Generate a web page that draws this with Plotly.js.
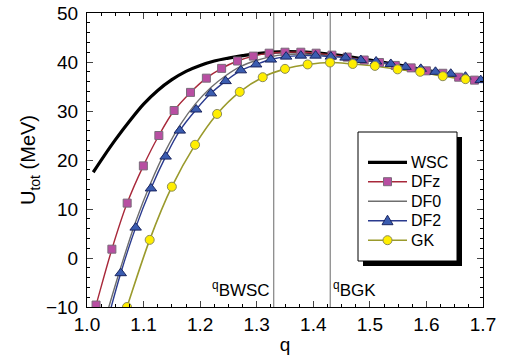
<!DOCTYPE html>
<html>
<head>
<meta charset="utf-8">
<script src="https://cdn.plot.ly/plotly-3.0.1.min.js"></script>
<style>html,body{margin:0;padding:0;background:#fff;}#chart{width:511px;height:363px;}</style>
</head>
<body>
<div id="chart"></div>
<script>
// WSC (line only)
const wscQ = [1.011, 1.03, 1.05, 1.075, 1.10, 1.125, 1.15, 1.175, 1.20, 1.225, 1.25, 1.275, 1.30, 1.35, 1.40, 1.45, 1.50, 1.55, 1.60, 1.65, 1.70];
const wscU = [17.5, 20.8, 24.1, 27.9, 31.4, 34.2, 36.4, 38.1, 39.3, 40.2, 40.8, 41.3, 41.7, 42.1, 41.9, 41.3, 40.4, 39.4, 38.3, 37.2, 36.2];

// DFz
const dfzQ = [1.016, 1.044, 1.071, 1.0996, 1.127, 1.154, 1.183, 1.211, 1.238, 1.266, 1.294, 1.322, 1.350, 1.378, 1.405, 1.433, 1.460, 1.490, 1.517, 1.545, 1.573, 1.600, 1.629, 1.657, 1.685];
const dfzU = [-9.6, 1.8, 11.2, 18.8, 25.0, 30.1, 33.8, 36.7, 38.7, 40.2, 41.2, 41.8, 42.0, 42.0, 41.8, 41.4, 41.0, 40.4, 39.9, 39.3, 38.8, 38.2, 37.7, 36.9, 36.3];
// DFz line, extended past the first and last marker to the frame
const dfzLineQ = [1.010, 1.016, 1.044, 1.071, 1.0996, 1.127, 1.154, 1.183, 1.211, 1.238, 1.266, 1.294, 1.322, 1.350, 1.378, 1.405, 1.433, 1.460, 1.490, 1.517, 1.545, 1.573, 1.600, 1.629, 1.657, 1.685, 1.70];
const dfzLineU = [-12.0, -9.6, 1.8, 11.2, 18.8, 25.0, 30.1, 33.8, 36.7, 38.7, 40.2, 41.2, 41.8, 42.0, 42.0, 41.8, 41.4, 41.0, 40.4, 39.9, 39.3, 38.8, 38.2, 37.7, 36.9, 36.3, 36.0];

// DF0 (line only)
const df0Q = [1.036, 1.060, 1.086, 1.113, 1.139, 1.165, 1.192, 1.219, 1.245, 1.272, 1.299, 1.325, 1.352, 1.378, 1.404, 1.45, 1.50, 1.55, 1.60, 1.65, 1.70];
const df0U = [-11.0, -1.8, 7.4, 15.4, 21.9, 27.2, 31.5, 34.8, 37.2, 39.1, 40.3, 41.1, 41.5, 41.6, 41.5, 41.0, 40.2, 39.3, 38.3, 37.3, 36.2];

// DF2
const df2Q = [1.0596, 1.086, 1.113, 1.139, 1.164, 1.193, 1.219, 1.245, 1.272, 1.299, 1.325, 1.352, 1.378, 1.404, 1.431, 1.457, 1.484, 1.511, 1.537, 1.563, 1.590, 1.616, 1.643, 1.669, 1.696];
const df2U = [-3.1, 6.2, 14.2, 20.7, 26.0, 30.3, 33.6, 36.1, 38.3, 39.5, 40.5, 41.1, 41.3, 41.3, 41.1, 40.9, 40.4, 40.1, 39.6, 39.0, 38.6, 38.0, 37.6, 37.0, 36.3];
const df2LineQ = [1.040, 1.0596, 1.086, 1.113, 1.139, 1.164, 1.193, 1.219, 1.245, 1.272, 1.299, 1.325, 1.352, 1.378, 1.404, 1.431, 1.457, 1.484, 1.511, 1.537, 1.563, 1.590, 1.616, 1.643, 1.669, 1.696];
const df2LineU = [-11.2, -3.1, 6.2, 14.2, 20.7, 26.0, 30.3, 33.6, 36.1, 38.3, 39.5, 40.5, 41.1, 41.3, 41.3, 41.1, 40.9, 40.4, 40.1, 39.6, 39.0, 38.6, 38.0, 37.6, 37.0, 36.3];

// GK
const gkQ = [1.0707, 1.1108, 1.150, 1.191, 1.230, 1.270, 1.3106, 1.350, 1.390, 1.4296, 1.4697, 1.509, 1.549, 1.589, 1.629, 1.669];
const gkU = [-10.0, 3.7, 14.55, 23.1, 29.4, 33.9, 36.9, 38.6, 39.5, 39.9, 39.6, 39.2, 38.5, 38.0, 37.1, 36.5];
const gkLineQ = [1.067, 1.0707, 1.1108, 1.150, 1.191, 1.230, 1.270, 1.3106, 1.350, 1.390, 1.4296, 1.4697, 1.509, 1.549, 1.589, 1.629, 1.669, 1.70];
const gkLineU = [-11.2, -10.0, 3.7, 14.55, 23.1, 29.4, 33.9, 36.9, 38.6, 39.5, 39.9, 39.6, 39.2, 38.5, 38.0, 37.1, 36.5, 36.0];

// Reference lines
const qB = [1.33, 1.43];
const qBLabels = ['<sup>q</sup>BWSC', '<sup>q</sup>BGK'];

// Legend entries
const legNames = ['WSC', 'DFz', 'DF0', 'DF2', 'GK'];

const FONT = 'Liberation Sans, Arial, sans-serif';
const C = {
  wsc: '#000000',
  dfzLine: '#a8283a', dfzFill: '#b84ea2', dfzEdge: '#7a6a7a',
  df0: '#6e6e6e',
  df2Line: '#2a3a8e', df2Fill: '#3a5cb0', df2Edge: '#1a2560',
  gkLine: '#9a9a2c', gkFill: '#ffee00', gkEdge: '#8a8a5a'
};

const traces = [
  {x: wscQ, y: wscU, mode: 'lines', name: 'WSC', line: {color: C.wsc, width: 3.2, shape: 'spline', smoothing: 1}},
  {x: dfzLineQ, y: dfzLineU, mode: 'lines', name: 'DFz', hoverinfo: 'skip', line: {color: C.dfzLine, width: 1.4, shape: 'spline'}},
  {x: df0Q, y: df0U, mode: 'lines', name: 'DF0', line: {color: C.df0, width: 1.4, shape: 'spline'}},
  {x: df2LineQ, y: df2LineU, mode: 'lines', name: 'DF2', hoverinfo: 'skip', line: {color: C.df2Line, width: 1.4, shape: 'spline'}},
  {x: gkLineQ, y: gkLineU, mode: 'lines', name: 'GK', hoverinfo: 'skip', line: {color: C.gkLine, width: 1.6, shape: 'spline'}},
  {x: dfzQ, y: dfzU, mode: 'markers', name: 'DFz',
   marker: {symbol: 'square', size: 8, color: C.dfzFill, line: {color: C.dfzEdge, width: 1}}},
  {x: df2Q, y: df2U, mode: 'markers', name: 'DF2',
   marker: {symbol: 'triangle-up', size: 10, color: C.df2Fill, line: {color: C.df2Edge, width: 1}}},
  {x: gkQ, y: gkU, mode: 'markers', name: 'GK',
   marker: {symbol: 'circle', size: 9, color: C.gkFill, line: {color: C.gkEdge, width: 1}}}
];

// pixel -> paper helpers for the plot frame (margins below)
const M = {l: 87, r: 28, t: 13, b: 56};
const W = 511, H = 363;
const PW = W - M.l - M.r, PH = H - M.t - M.b;
const px = v => (v - M.l) / PW;
const py = v => (H - M.b - v) / PH;

const shapes = qB.map(q => ({type: 'line', xref: 'x', yref: 'paper', x0: q, x1: q, y0: 0, y1: 1,
  line: {color: '#8c8c8c', width: 1.3}, layer: 'below'}));

// custom legend box with drop shadow
const LB = {x0: 358, y0: 132, x1: 457, y1: 261, sh: 5};
shapes.push({type: 'rect', xref: 'paper', yref: 'paper', x0: px(LB.x0 + LB.sh), x1: px(LB.x1 + LB.sh), y0: py(LB.y1 + LB.sh), y1: py(LB.y0 + LB.sh),
  fillcolor: '#000', line: {width: 0}, layer: 'above'});
shapes.push({type: 'rect', xref: 'paper', yref: 'paper', x0: px(LB.x0), x1: px(LB.x1), y0: py(LB.y1), y1: py(LB.y0),
  fillcolor: '#fff', line: {color: '#000', width: 1}, layer: 'above'});

const rowY = [162.3, 181.7, 201.2, 220.7, 240.2];
const sx0 = 368, sx1 = 407, smid = 387.5, tx = 409;
const sampleStyles = [
  {color: C.wsc, width: 3.2}, {color: C.dfzLine, width: 1.4}, {color: C.df0, width: 1.4},
  {color: C.df2Line, width: 1.4}, {color: C.gkLine, width: 1.6}
];
rowY.forEach((y, i) => {
  shapes.push({type: 'line', xref: 'paper', yref: 'paper', x0: px(sx0), x1: px(sx1), y0: py(y), y1: py(y),
    line: sampleStyles[i], layer: 'above'});
});
// legend symbols
shapes.push({type: 'rect', xref: 'paper', yref: 'paper', x0: px(smid - 4), x1: px(smid + 4), y0: py(rowY[1] + 4), y1: py(rowY[1] - 4),
  fillcolor: C.dfzFill, line: {color: C.dfzEdge, width: 1}, layer: 'above'});
shapes.push({type: 'path', xref: 'paper', yref: 'paper',
  path: `M ${px(smid)},${py(rowY[3] - 5.5)} L ${px(smid + 5.5)},${py(rowY[3] + 4)} L ${px(smid - 5.5)},${py(rowY[3] + 4)} Z`,
  fillcolor: C.df2Fill, line: {color: C.df2Edge, width: 1}, layer: 'above'});
shapes.push({type: 'circle', xref: 'paper', yref: 'paper', x0: px(smid - 4.5), x1: px(smid + 4.5), y0: py(rowY[4] + 4.5), y1: py(rowY[4] - 4.5),
  fillcolor: C.gkFill, line: {color: C.gkEdge, width: 1}, layer: 'above'});

const annotations = [
  {x: qB[0], y: -9.0, xref: 'x', yref: 'y', text: qBLabels[0], showarrow: false, xanchor: 'right', yanchor: 'bottom', xshift: -2,
   font: {family: FONT, size: 17, color: '#000'}},
  {x: qB[1], y: -9.0, xref: 'x', yref: 'y', text: qBLabels[1], showarrow: false, xanchor: 'left', yanchor: 'bottom', xshift: 1,
   font: {family: FONT, size: 17, color: '#000'}}
];
legNames.forEach((n, i) => {
  annotations.push({x: px(tx), y: py(rowY[i]), xref: 'paper', yref: 'paper', text: n, showarrow: false,
    xanchor: 'left', yanchor: 'middle', font: {family: FONT, size: 16, color: '#000'}});
});

const layout = {
  width: W, height: H,
  margin: M,
  paper_bgcolor: '#fff', plot_bgcolor: '#fff',
  font: {family: FONT, size: 19, color: '#000'},
  showlegend: false,
  xaxis: {range: [1.0, 1.7], dtick: 0.1, tick0: 1.0, tickformat: '.1f', ticks: 'inside', ticklen: 6, tickwidth: 1,
    mirror: 'allticks', showline: true, linecolor: '#000', linewidth: 1, showgrid: false, zeroline: false,
    minor: {dtick: 0.025, ticks: 'inside', ticklen: 3, tickcolor: '#000', showgrid: false},
    title: {text: 'q', font: {family: FONT, size: 19}, standoff: 3}, tickfont: {size: 19}},
  yaxis: {range: [-10, 50], dtick: 10, ticks: 'inside', ticklen: 6, tickwidth: 1, ticklabelstandoff: 4,
    mirror: 'allticks', showline: true, linecolor: '#000', linewidth: 1, showgrid: false, zeroline: false,
    minor: {dtick: 2, ticks: 'inside', ticklen: 3, tickcolor: '#000', showgrid: false},
    title: {text: 'U<sub>tot</sub> (MeV)', font: {family: FONT, size: 20}, standoff: 4}, tickfont: {size: 19}},
  shapes: shapes,
  annotations: annotations
};

Plotly.newPlot('chart', traces, layout, {displayModeBar: false, staticPlot: true});
</script>
</body>
</html>
